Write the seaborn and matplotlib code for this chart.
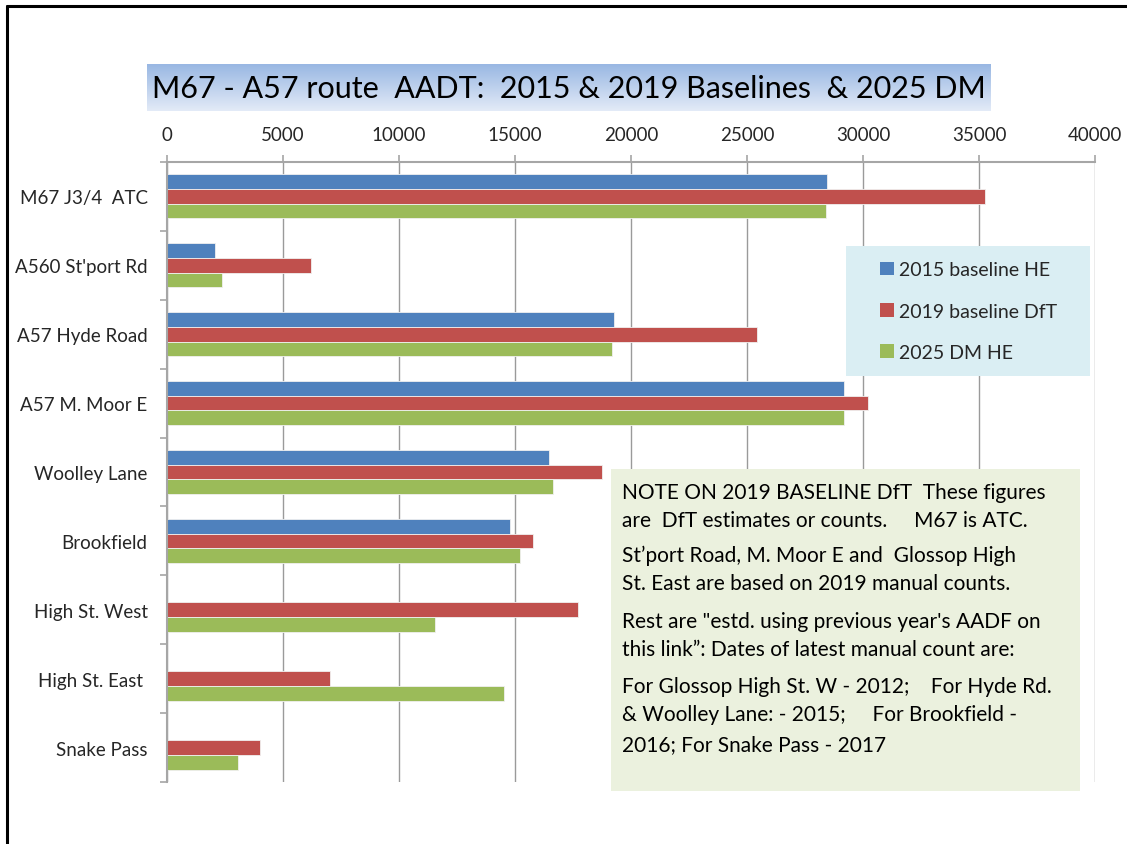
import numpy as np
import pandas as pd
import matplotlib
matplotlib.use("Agg")
import matplotlib.pyplot as plt
import seaborn as sns
from matplotlib.patches import Rectangle, Patch
from matplotlib.lines import Line2D

# ---- data ----
categories = ["M67 J3/4  ATC", "A560 St'port Rd", "A57 Hyde Road", "A57 M. Moor E",
              "Woolley Lane", "Brookfield", "High St. West", "High St. East ", "Snake Pass"]
series_names = ["2015 baseline HE", "2019 baseline DfT", "2025 DM HE"]
vals_2015 = [28450, 2050, 19270, 29170, 16450, 14800, np.nan, np.nan, np.nan]
vals_2019 = [35260, 6200, 25420, 30220, 18760, 15780, 17700, 7040, 4020]
vals_2025 = [28400, 2360, 19180, 29170, 16640, 15200, 11540, 14540, 3060]
x_ticks = [0, 5000, 10000, 15000, 20000, 25000, 30000, 35000, 40000]
title = "M67 - A57 route  AADT:  2015 & 2019 Baselines  & 2025 DM"
note_lines = [
    "NOTE ON 2019 BASELINE DfT  These figures",
    "are  DfT estimates or counts.     M67 is ATC.",
    "St\u2019port Road, M. Moor E and  Glossop High",
    "St. East are based on 2019 manual counts.",
    "Rest are \"estd. using previous year's AADF on",
    "this link\u201d: Dates of latest manual count are:",
    "For Glossop High St. W - 2012;    For Hyde Rd.",
    "& Woolley Lane: - 2015;     For Brookfield -",
    "2016; For Snake Pass - 2017",
]
colors = ["#4F81BD", "#C0504D", "#9BBB59"]

df = pd.DataFrame({
    "category": categories * 3,
    "series": sum([[s] * len(categories) for s in series_names], []),
    "value": vals_2015 + vals_2019 + vals_2025,
})

W, H = 1127, 845
sns.set_theme(style="white")
plt.rcParams["font.family"] = ["Lato", "DejaVu Sans"]

fig = plt.figure(figsize=(W / 100, H / 100), dpi=100)
fig.patch.set_facecolor("white")

def fx(px):
    return px / W

def fy(py):
    return 1 - py / H

ax = fig.add_axes([fx(167), fy(783), fx(1095) - fx(167), fy(163) - fy(783)])
sns.barplot(data=df, y="category", x="value", hue="series", orient="h",
            palette=colors, width=0.64, ax=ax, legend=False,
            linewidth=0.6, edgecolor="#f0f0f0", saturation=1)
ax.set_xlim(0, 40000)
ax.set_ylim(8.5, -0.5)
ax.set_xticks(x_ticks)
ax.set_xticklabels([str(t) for t in x_ticks])
ax.xaxis.tick_top()
ax.set_xlabel("")
ax.set_ylabel("")
ax.set_yticks(range(len(categories)))
ax.set_yticklabels(categories)
ax.grid(axis="x", color="#9a9a9a", linewidth=1.0)
ax.set_axisbelow(True)
for s in ["right", "bottom"]:
    ax.spines[s].set_visible(False)
for s in ["top", "left"]:
    ax.spines[s].set_visible(True)
    ax.spines[s].set_color("#a6a6a6")
    ax.spines[s].set_linewidth(1.5)
ax.tick_params(axis="x", which="major", top=True, bottom=False, length=5,
               color="#a6a6a6", width=1.2, labelsize=13.5, pad=9)
ax.tick_params(axis="y", which="major", left=False, length=0, labelsize=13.5, pad=14)
ax.set_yticks(np.arange(-0.5, len(categories), 1.0), minor=True)
ax.tick_params(axis="y", which="minor", left=True, length=5, color="#a6a6a6", width=1.2)

# title box with gradient
tax = fig.add_axes([fx(147), fy(112), fx(991) - fx(147), fy(65) - fy(112)])
top = np.array([0.60, 0.72, 0.89])
bot = np.array([0.89, 0.92, 0.97])
grad = np.linspace(0, 1, 64)[:, None, None]
img = top * (1 - grad) + bot * grad
tax.imshow(np.repeat(img, 2, axis=1), aspect="auto", extent=[0, 1, 0, 1])
tax.set_axis_off()
fig.text(fx(569), fy(89), title, ha="center", va="center", fontsize=22, color="black")

# legend box
fig.patches.append(Rectangle((fx(846), fy(377)), fx(1090) - fx(846), fy(247) - fy(377),
                             transform=fig.transFigure, facecolor="#DAEEF3", edgecolor="none", zorder=5))
handles = [Patch(facecolor=c, edgecolor="none") for c in colors]
leg = fig.legend(handles, series_names, loc="center left",
                 bbox_to_anchor=(fx(880), fy(312)), bbox_transform=fig.transFigure,
                 frameon=False, fontsize=14, handlelength=0.7, handleheight=0.7,
                 handletextpad=0.3, labelspacing=1.25, borderaxespad=0, borderpad=0)
leg.set_zorder(6)

# note box
fig.patches.append(Rectangle((fx(611), fy(792)), fx(1080) - fx(611), fy(470) - fy(792),
                             transform=fig.transFigure, facecolor="#EBF1DE", edgecolor="none", zorder=5))
note_y = [493, 521, 556, 584, 622, 650, 687, 715, 745]
for line, yy in zip(note_lines, note_y):
    fig.text(fx(622), fy(yy), line, ha="left", va="center", fontsize=15, color="black", zorder=7)

# slide frame lines
fig.add_artist(Line2D([fx(7), fx(7)], [0, fy(7)], color="black", linewidth=2.2, transform=fig.transFigure))
fig.add_artist(Line2D([fx(7), 1], [fy(7), fy(7)], color="black", linewidth=2.2, transform=fig.transFigure))

fig.savefig("out.png", dpi=100)
